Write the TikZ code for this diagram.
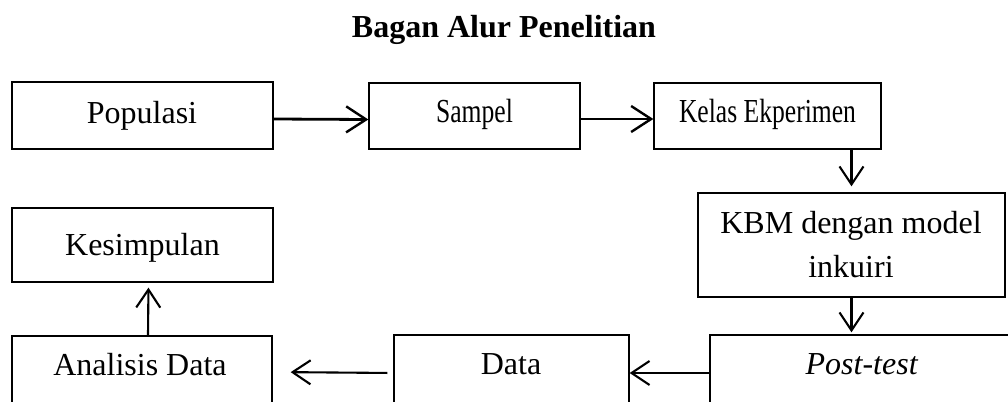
\documentclass[tikz,border=0pt]{standalone}
\usepackage{fontspec}
\usepackage{graphicx}
\setmainfont{Liberation Serif}
\usetikzlibrary{arrows.meta}
\begin{document}
\begin{tikzpicture}[x=0.5pt,y=-0.5pt,
  box/.style={draw=black, line width=0.65pt, rectangle, inner sep=0pt},
  txt/.style={anchor=base, inner sep=0pt, font=\fontsize{16pt}{22pt}\selectfont},
  arr/.style={line width=1.05pt, -{Straight Barb[length=9pt,width=12pt,line width=1.05pt]}},
  arrtop/.style={line width=1.4pt, -{Straight Barb[length=10pt,width=13pt,line width=1.2pt]}}
]
\useasboundingbox (0,0) rectangle (1008,402);
\clip (0,0) rectangle (1008,402);
% title
\node[txt, font=\fontsize{16pt}{22pt}\selectfont\bfseries] (title) at (504,37) {Bagan Alur Penelitian};
% boxes
\node[box, minimum width=130.5pt, minimum height=33.5pt] (pop) at (142.5,115.5) {};
\node[box, minimum width=105.5pt, minimum height=33pt] (sam) at (474.5,116) {};
\node[box, minimum width=113.5pt, minimum height=33pt] (kel) at (767.5,116) {};
\node[box, minimum width=153.5pt, minimum height=52pt] (kbm) at (851.5,245) {};
\node[box, minimum width=130.5pt, minimum height=37pt] (kes) at (142.5,245) {};
\node[box, minimum width=130pt, minimum height=36pt] (ana) at (142,372) {};
\node[box, minimum width=117.5pt, minimum height=38pt] (dat) at (511.5,373) {};
\node[box, minimum width=180pt, minimum height=38pt] (pos) at (890,373) {};
% texts
\node[txt] (popT) at (142,123) {Populasi};
\node[txt] (samT) at (474.5,122) {\scalebox{0.8}[1.05]{Sampel}};
\node[txt] (kelT) at (767.5,122) {\scalebox{0.8}[1.05]{Kelas Ekperimen}};
\node[txt] (kbmT1) at (851,233) {KBM dengan model};
\node[txt] (kbmT2) at (851,277) {inkuiri};
\node[txt] (kesT) at (142.5,255) {Kesimpulan};
\node[txt] (anaT) at (140,375) {Analisis Data};
\node[txt] (datT) at (511,374) {Data};
\node[txt] (posT) at (862,374) {\textit{Post-test}};
% connectors
\draw[arrtop] ([yshift=-1.75pt]pop.east) -- ([yshift=-1.75pt]sam.west);
\draw[arrtop] ([yshift=-1.5pt]sam.east) -- ([yshift=-1.5pt]kel.west);
\draw[arr, shorten >=3pt] (kel.south -| kbm.center) -- (kbm.north);
\draw[arr, shorten >=1pt] (kbm.south) -- (kbm.south |- pos.north);
\draw[arr] (pos.west) -- (dat.east);
\draw[arr, shorten <=3pt, shorten >=9pt] (dat.west) -- (ana.east);
\draw[arr, shorten >=2.5pt] ([xshift=3pt]ana.north) -- ([xshift=3pt]kes.south);
\end{tikzpicture}
\end{document}
